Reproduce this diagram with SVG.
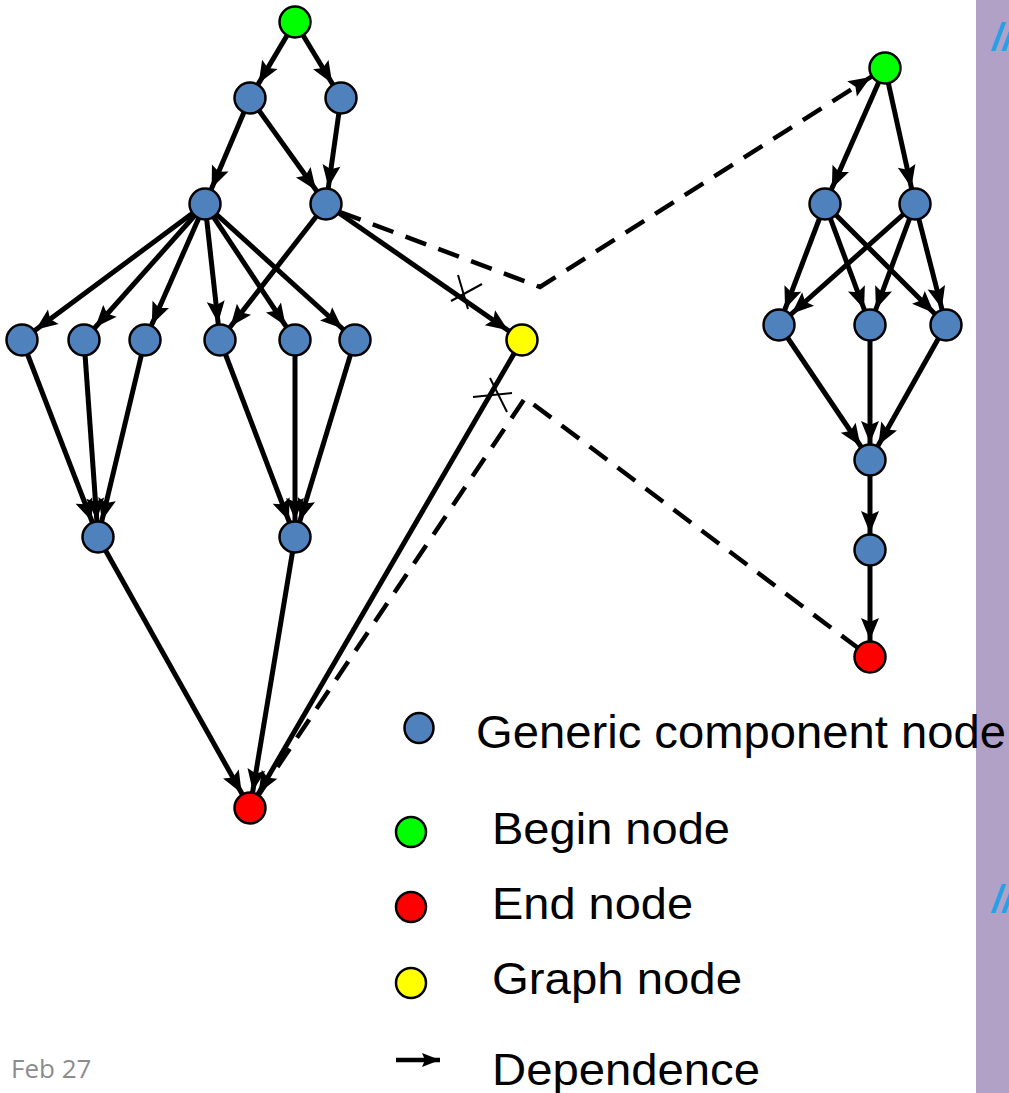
<svg xmlns="http://www.w3.org/2000/svg" width="1009" height="1093" viewBox="0 0 1009 1093">
  <style>
    .edge { stroke: #000; stroke-width: 5; fill: none; marker-end: url(#head); }
    .dash { stroke: #000; stroke-width: 4.5; fill: none; stroke-dasharray: 22 13; }
    .cut { stroke: #000; stroke-width: 2; fill: none; }
    .node { stroke: #000; stroke-width: 2.5; }
    .comp { fill: #4f81bd; }
    .begin { fill: #00ff00; }
    .end { fill: #ff0000; }
    .graph { fill: #ffff00; }
    .label { font-family: "Liberation Sans", Arial, sans-serif; fill: #000; }
    .slash { font-family: "Liberation Sans", Arial, sans-serif; font-weight: bold; font-style: italic; font-size: 38px; fill: #29a0e6; }
  </style>
  <defs>
    <!-- arrowhead whose tip stops at the rim of a node drawn at the line's end point -->
    <marker id="head" markerUnits="userSpaceOnUse" markerWidth="40" markerHeight="18" refX="39" refY="9" orient="auto" overflow="visible">
      <path d="M0,0 L22,9 L0,18 L4,9 Z" fill="#000"/>
    </marker>
    <!-- arrowhead with its tip exactly at the line's end point -->
    <marker id="tip" markerUnits="userSpaceOnUse" markerWidth="18" markerHeight="16" refX="18" refY="8" orient="auto" overflow="visible">
      <path d="M0,1 L18,8 L0,15 L3,8 Z" fill="#000"/>
    </marker>
  </defs>

  <rect x="0" y="0" width="1009" height="1093" fill="#fff"/>

  <!-- side panel -->
  <rect x="976" y="0" width="33" height="1093" fill="#b2a1c7"/>
  <text class="slash" x="992" y="50">//</text>
  <text class="slash" x="992" y="912">//</text>

  <g id="connectors">
    <!-- outer graph -->
    <line class="edge" x1="295" y1="22" x2="250" y2="98"/>
    <line class="edge" x1="295" y1="22" x2="341" y2="98"/>
    <line class="edge" x1="250" y1="98" x2="205" y2="204"/>
    <line class="edge" x1="250" y1="98" x2="326" y2="204"/>
    <line class="edge" x1="341" y1="98" x2="326" y2="204"/>
    <line class="edge" x1="205" y1="204" x2="22" y2="340"/>
    <line class="edge" x1="205" y1="204" x2="84" y2="340"/>
    <line class="edge" x1="205" y1="204" x2="145" y2="340"/>
    <line class="edge" x1="205" y1="204" x2="220" y2="340"/>
    <line class="edge" x1="205" y1="204" x2="295" y2="340"/>
    <line class="edge" x1="205" y1="204" x2="355" y2="340"/>
    <line class="edge" x1="326" y1="204" x2="220" y2="340"/>
    <line class="edge" x1="326" y1="204" x2="522" y2="340"/>
    <line class="edge" x1="22" y1="340" x2="98" y2="537"/>
    <line class="edge" x1="84" y1="340" x2="98" y2="537"/>
    <line class="edge" x1="145" y1="340" x2="98" y2="537"/>
    <line class="edge" x1="220" y1="340" x2="295" y2="537"/>
    <line class="edge" x1="295" y1="340" x2="295" y2="537"/>
    <line class="edge" x1="355" y1="340" x2="295" y2="537"/>
    <line class="edge" x1="98" y1="537" x2="250" y2="808"/>
    <line class="edge" x1="295" y1="537" x2="250" y2="808"/>
    <line class="edge" x1="522" y1="340" x2="250" y2="808"/>

    <!-- nested graph -->
    <line class="edge" x1="885" y1="68" x2="825" y2="204"/>
    <line class="edge" x1="885" y1="68" x2="915" y2="204"/>
    <line class="edge" x1="825" y1="204" x2="779" y2="325"/>
    <line class="edge" x1="825" y1="204" x2="870" y2="325"/>
    <line class="edge" x1="825" y1="204" x2="946" y2="325"/>
    <line class="edge" x1="915" y1="204" x2="779" y2="325"/>
    <line class="edge" x1="915" y1="204" x2="870" y2="325"/>
    <line class="edge" x1="915" y1="204" x2="946" y2="325"/>
    <line class="edge" x1="779" y1="325" x2="870" y2="460"/>
    <line class="edge" x1="870" y1="325" x2="870" y2="460"/>
    <line class="edge" x1="946" y1="325" x2="870" y2="460"/>
    <line class="edge" x1="870" y1="460" x2="870" y2="550"/>
    <line class="edge" x1="870" y1="550" x2="870" y2="657"/>

    <!-- redirected dependences through the graph node -->
    <polyline class="dash" points="340,212 540,287 885,68" marker-end="url(#head)"/>
    <polyline class="dash" points="258,796 525,398 870,657"/>

    <!-- cut marks on the replaced edges -->
    <line class="cut" x1="451" y1="301" x2="482" y2="284"/>
    <line class="cut" x1="458" y1="275" x2="468" y2="309"/>
    <line class="cut" x1="473" y1="397" x2="512" y2="393"/>
    <line class="cut" x1="490" y1="378" x2="507" y2="412"/>
  </g>

  <!-- outer graph nodes -->
  <g id="n-begin"><circle class="node begin" cx="295" cy="22" r="15.5"/></g>
  <g id="n-a1"><circle class="node comp" cx="250" cy="98" r="15.5"/></g>
  <g id="n-a2"><circle class="node comp" cx="341" cy="98" r="15.5"/></g>
  <g id="n-b1"><circle class="node comp" cx="205" cy="204" r="15.5"/></g>
  <g id="n-b2"><circle class="node comp" cx="326" cy="204" r="15.5"/></g>
  <g id="n-c1"><circle class="node comp" cx="22" cy="340" r="15.5"/></g>
  <g id="n-c2"><circle class="node comp" cx="84" cy="340" r="15.5"/></g>
  <g id="n-c3"><circle class="node comp" cx="145" cy="340" r="15.5"/></g>
  <g id="n-c4"><circle class="node comp" cx="220" cy="340" r="15.5"/></g>
  <g id="n-c5"><circle class="node comp" cx="295" cy="340" r="15.5"/></g>
  <g id="n-c6"><circle class="node comp" cx="355" cy="340" r="15.5"/></g>
  <g id="n-graph"><circle class="node graph" cx="522" cy="340" r="15.5"/></g>
  <g id="n-d1"><circle class="node comp" cx="98" cy="537" r="15.5"/></g>
  <g id="n-d2"><circle class="node comp" cx="295" cy="537" r="15.5"/></g>
  <g id="n-end"><circle class="node end" cx="250" cy="808" r="15.5"/></g>

  <!-- nested graph nodes -->
  <g id="g-begin"><circle class="node begin" cx="885" cy="68" r="15.5"/></g>
  <g id="g-a1"><circle class="node comp" cx="825" cy="204" r="15.5"/></g>
  <g id="g-a2"><circle class="node comp" cx="915" cy="204" r="15.5"/></g>
  <g id="g-b1"><circle class="node comp" cx="779" cy="325" r="15.5"/></g>
  <g id="g-b2"><circle class="node comp" cx="870" cy="325" r="15.5"/></g>
  <g id="g-b3"><circle class="node comp" cx="946" cy="325" r="15.5"/></g>
  <g id="g-c"><circle class="node comp" cx="870" cy="460" r="15.5"/></g>
  <g id="g-d"><circle class="node comp" cx="870" cy="550" r="15.5"/></g>
  <g id="g-end"><circle class="node end" cx="870" cy="657" r="15.5"/></g>

  <!-- legend -->
  <g id="legend">
    <ellipse class="node comp" cx="419" cy="728" rx="14.5" ry="15"/>
    <text class="label" x="476" y="748" font-size="47" textLength="530" lengthAdjust="spacingAndGlyphs">Generic component node</text>
    <circle class="node begin" cx="411" cy="832" r="15"/>
    <text class="label" x="492" y="844" font-size="44" textLength="238" lengthAdjust="spacingAndGlyphs">Begin node</text>
    <circle class="node end" cx="411" cy="907" r="15"/>
    <text class="label" x="492" y="919" font-size="44" textLength="201" lengthAdjust="spacingAndGlyphs">End node</text>
    <circle class="node graph" cx="411" cy="983" r="15"/>
    <text class="label" x="492" y="994" font-size="44" textLength="250" lengthAdjust="spacingAndGlyphs">Graph node</text>
    <line x1="396" y1="1060" x2="440" y2="1060" stroke="#000" stroke-width="4.5" marker-end="url(#tip)"/>
    <text class="label" x="492" y="1085" font-size="44" textLength="268" lengthAdjust="spacingAndGlyphs">Dependence</text>
  </g>

  <text x="11" y="1078" font-family="'Open Sans', 'Liberation Sans', sans-serif" font-size="26" fill="#8c8c8c">Feb 27</text>
</svg>
